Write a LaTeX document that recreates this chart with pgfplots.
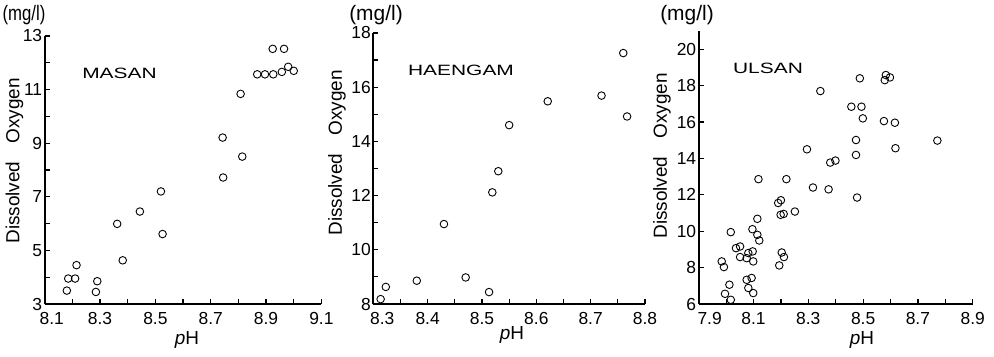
\documentclass[border=0pt]{standalone}
\usepackage{pgfplots}
\pgfplotsset{compat=1.18}
\usepackage{fontspec}
\setmainfont{Liberation Sans}
\usepackage{graphicx}
\pgfplotsset{
 myax/.style={
  scale only axis, clip=false,
  axis lines=left, axis line style={line width=1.7pt, -},
  tick align=inside, major tick length=5pt, minor tick length=5pt,
  tick style={line width=1.2pt, black},
  every tick label/.append style={font=\fontsize{17.5}{17.5}\selectfont},
  /pgf/number format/assume math mode=true,
  xticklabel style={yshift=-5pt},
  yticklabel style={xshift=1pt},
  anchor=south west,
 },
 myplot/.style={only marks, mark=o, mark size=3.8pt, mark options={line width=0.9pt, black}},
}
\newcommand{\lab}{\fontsize{19}{19}\selectfont}
\begin{document}
\begin{tikzpicture}[x=1bp,y=1bp]
\useasboundingbox (0,0) rectangle (994,356);
% ---------------- MASAN
\begin{axis}[myax, at={(44.7bp,52bp)}, width=276.7bp, height=268bp,
  xmin=8.1, xmax=9.1, ymin=3, ymax=13,
  xtick={8.1,8.3,8.5,8.7,8.9,9.1}, xticklabels={\hspace{14pt}8.1,8.3,8.5,8.7,8.9,9.1},
  minor xtick={8.2,8.4,8.6,8.8,9.0},
  ytick={3,5,7,9,11,13}, yticklabels={3,5,7,9,11,13},
  minor ytick={4,6,8,10,12}]
\addplot[myplot] coordinates {
(8.18,3.5)(8.185,3.95)(8.21,3.95)(8.215,4.45)(8.29,3.85)(8.285,3.45)
(8.362,5.99)(8.382,4.63)(8.444,6.45)(8.52,7.2)(8.526,5.61)
(8.743,9.21)(8.745,7.72)(8.814,8.5)(8.808,10.84)
(8.924,12.52)(8.965,12.52)(8.868,11.57)(8.896,11.57)(8.926,11.57)
(8.957,11.66)(8.98,11.85)(9.0,11.7)
};
\end{axis}
% ---------------- HAENGAM
\begin{axis}[myax, at={(373.3bp,52bp)}, width=271.7bp, height=271bp,
  xmin=8.3, xmax=8.8, ymin=8, ymax=18,
  xtick={8.3,8.4,8.5,8.6,8.7,8.8}, xticklabels={\hspace{18pt}8.3,8.4,8.5,8.6,8.7,8.8},
  minor xtick={8.35,8.45,8.55,8.65,8.75},
  ytick={8,10,12,14,16,18}, yticklabels={8,10,12,14,16,18},
  minor ytick={9,11,13,15,17}]
\addplot[myplot] coordinates {
(8.3135,8.18)(8.323,8.63)(8.38,8.86)(8.43,10.95)(8.47,8.98)(8.513,8.44)
(8.519,12.12)(8.53,12.9)(8.55,14.6)(8.621,15.48)(8.72,15.69)(8.76,17.26)(8.767,14.92)
};
\end{axis}
% ---------------- ULSAN
\begin{axis}[myax, at={(698.7bp,52bp)}, width=274bp, height=273bp,
  xmin=7.9, xmax=8.9, ymin=6, ymax=21,
  xtick={7.9,8.1,8.3,8.5,8.7,8.9}, xticklabels={\hspace{22pt}7.9,8.1,8.3,8.5,8.7,8.9},
  minor xtick={8.0,8.2,8.4,8.6,8.8},
  ytick={6,8,10,12,14,16,18,20}, yticklabels={6,8,10,12,14,16,18,20}]
\addplot[myplot] coordinates {
(7.984,8.34)(7.992,8.03)(8.017,9.95)(8.012,7.06)(7.996,6.56)(8.017,6.23)
(8.036,9.07)(8.051,9.16)(8.051,8.58)(8.075,8.52)(8.081,8.8)(8.097,8.89)(8.099,8.34)
(8.075,7.33)(8.093,7.43)(8.081,6.88)(8.099,6.6)(8.096,10.11)(8.114,10.68)(8.114,9.8)
(8.121,9.49)(8.118,12.86)(8.19,11.55)(8.2,11.7)(8.199,10.9)(8.21,10.95)(8.203,8.83)
(8.211,8.58)(8.194,8.12)(8.22,12.86)(8.251,11.08)(8.295,14.5)(8.317,12.4)(8.344,17.7)
(8.374,12.3)(8.38,13.77)(8.399,13.88)(8.457,16.84)(8.494,16.84)(8.499,16.2)
(8.474,15.01)(8.474,14.19)(8.478,11.85)(8.488,18.4)(8.576,16.05)(8.616,15.96)
(8.618,14.56)(8.583,18.58)(8.598,18.45)(8.579,18.3)(8.771,14.98)
};
\end{axis}
% ---------------- texts
\node at (24,341) {\fontsize{21}{21}\selectfont\scalebox{0.8}[1]{(mg/l)}};
\node at (376,341) {\fontsize{21}{21}\selectfont (mg/l)};
\node at (687,341) {\fontsize{21}{21}\selectfont (mg/l)};
\node[rotate=90] at (14.5,195) {\lab Dissolved\hspace{18pt}Oxygen};
\node[rotate=90] at (337,203) {\lab Dissolved\hspace{18pt}Oxygen};
\node[rotate=90] at (662,200) {\lab Dissolved\hspace{18pt}Oxygen};
\node at (187,16) {\lab\textit{p}H};
\node at (512,21) {\lab\textit{p}H};
\node at (862,16) {\lab\textit{p}H};
\node at (119.5,283) {\fontsize{15}{15}\selectfont\scalebox{1.4}[1]{MASAN}};
\node at (461,286) {\fontsize{15}{15}\selectfont\scalebox{1.4}[1]{HAENGAM}};
\node at (768,288) {\fontsize{15}{15}\selectfont\scalebox{1.4}[1]{ULSAN}};
\end{tikzpicture}
\end{document}
